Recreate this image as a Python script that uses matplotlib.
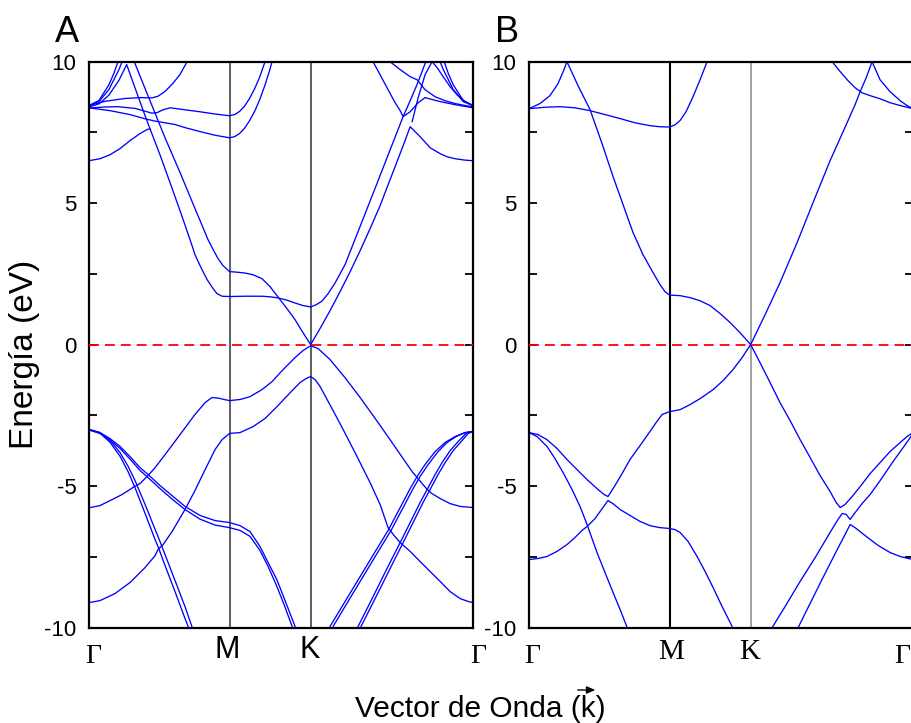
import matplotlib
matplotlib.use("Agg")
import matplotlib.pyplot as plt
from matplotlib.patches import FancyArrowPatch

plt.rcParams['font.family'] = ['Liberation Sans', 'DejaVu Sans']
plt.rcParams['axes.unicode_minus'] = False

# ---------------- high-symmetry path (units: |Gamma-M| = 1) ----------------
kpath_pos = [0.0, 1.0, 1.5774, 2.7321]
kpath_lab_A = ['Γ', 'M', 'K', 'Γ']
kpath_lab_B = ['Γ', 'M', 'K', 'Γ']
yticks_major = [-10, -5, 0, 5, 10]
yticks_minor = [-7.5, -2.5, 2.5, 7.5]

# ---------------- Panel A : bands (k, E in eV) ----------------
a_c01_k = [0, 0.078, 0.149, 0.221, 0.292, 0.363, 0.413, 0.434]
a_c01_e = [6.50, 6.57, 6.71, 6.93, 7.21, 7.46, 7.60, 7.63]

a_c02_k = [0, 0.071, 0.142, 0.214, 0.268, 0.327, 0.399, 0.434, 0.505, 0.577, 0.648, 0.719, 0.754,
           0.797, 0.840, 0.883, 0.911, 0.947, 1.000, 1.110, 1.231, 1.288, 1.345, 1.409, 1.466, 1.523, 1.577,
           1.616, 1.656, 1.701, 1.751, 1.822, 1.929, 2.036, 2.142, 2.235, 2.285, 2.342, 2.391, 2.406]
a_c02_e = [8.40, 8.51, 8.82, 9.35, 9.90, 9.08, 8.09, 7.63, 6.71, 5.72, 4.73, 3.71, 3.18,
           2.72, 2.30, 1.98, 1.80, 1.71, 1.70, 1.71, 1.71, 1.69, 1.65, 1.57, 1.47, 1.38, 1.33,
           1.41, 1.53, 1.80, 2.18, 2.83, 4.18, 5.53, 6.88, 8.06, 8.62, 9.29, 9.93, 10.07]

a_c03_k = [0, 0.071, 0.142, 0.178, 0.206]
a_c03_e = [8.45, 8.63, 9.19, 9.60, 10.0]

a_c04_k = [0, 0.071, 0.142, 0.214, 0.235]
a_c04_e = [8.45, 8.59, 9.02, 9.73, 10.0]

a_c05_k = [0, 0.114, 0.256, 0.363, 0.448, 0.491, 0.541, 0.591, 0.648, 0.698]
a_c05_e = [8.45, 8.60, 8.70, 8.73, 8.72, 8.78, 8.95, 9.20, 9.55, 10.0]

a_c06_k = [0, 0.114, 0.206, 0.327, 0.413, 0.448, 0.484, 0.527, 0.577, 0.683, 0.790, 0.897, 1.000,
           1.036, 1.071, 1.107, 1.142, 1.178, 1.214, 1.249, 1.267]
a_c06_e = [8.36, 8.40, 8.41, 8.35, 8.23, 8.18, 8.20, 8.30, 8.37, 8.30, 8.23, 8.15, 8.09,
           8.13, 8.24, 8.43, 8.70, 9.04, 9.45, 9.95, 10.2]

a_c07_k = [0, 0.149, 0.292, 0.399, 0.470, 0.541, 0.612, 0.683, 0.790, 0.897, 1.000,
           1.036, 1.071, 1.107, 1.142, 1.178, 1.214, 1.249, 1.285, 1.306]
a_c07_e = [8.37, 8.27, 8.13, 7.98, 7.90, 7.84, 7.78, 7.67, 7.53, 7.40, 7.31,
           7.35, 7.46, 7.65, 7.91, 8.24, 8.65, 9.13, 9.69, 10.07]

a_c08_k = [0.322, 0.434, 0.541, 0.648, 0.754, 0.847, 0.883, 0.918, 0.954, 1.000,
           1.053, 1.110, 1.167, 1.231, 1.288, 1.345, 1.409, 1.466, 1.523, 1.577,
           1.644, 1.715, 1.786, 1.858, 1.929, 2.000, 2.071, 2.128, 2.178, 2.235, 2.285,
           2.356, 2.427, 2.498, 2.548, 2.605, 2.676, 2.732]
a_c08_e = [10.0, 8.62, 7.31, 6.08, 4.81, 3.71, 3.36, 3.04, 2.79, 2.58,
           2.56, 2.53, 2.47, 2.33, 2.05, 1.68, 1.27, 0.88, 0.42, 0.0,
           0.57, 1.20, 1.87, 2.58, 3.32, 4.10, 4.91, 5.65, 6.29, 7.03, 7.70,
           7.35, 6.96, 6.75, 6.64, 6.57, 6.52, 6.50]

a_c09_k = [2.299, 2.342, 2.391, 2.441, 2.477, 2.520, 2.569, 2.619, 2.676, 2.732]
a_c09_e = [7.88, 8.73, 9.54, 10.0, 9.79, 9.47, 9.12, 8.83, 8.59, 8.45]

a_c10_k = [2.732, 2.662, 2.591, 2.555, 2.527]
a_c10_e = [8.45, 8.63, 9.19, 9.60, 10.0]

a_c11_k = [2.732, 2.662, 2.591, 2.520, 2.498]
a_c11_e = [8.45, 8.59, 9.02, 9.73, 10.0]

a_c12_k = [2.021, 2.071, 2.128, 2.178, 2.214, 2.235, 2.285, 2.342, 2.391, 2.498, 2.605, 2.732]
a_c12_e = [10.0, 9.54, 9.01, 8.55, 8.27, 8.06, 8.23, 8.55, 8.73, 8.59, 8.48, 8.37]

a_c13_k = [2.142, 2.214, 2.285, 2.335, 2.391, 2.463, 2.534, 2.605, 2.676, 2.732]
a_c13_e = [10.0, 9.72, 9.47, 9.36, 9.01, 8.76, 8.62, 8.52, 8.45, 8.41]

a_v01_k = [0, 0.078, 0.149, 0.221, 0.292, 0.363, 0.420, 0.505, 0.591, 0.683, 0.790, 0.897, 1.000,
           1.075, 1.146, 1.217, 1.274, 1.336, 1.395, 1.466]
a_v01_e = [-3.00, -3.11, -3.32, -3.60, -3.96, -4.35, -4.59, -4.98, -5.34, -5.72, -6.04, -6.22, -6.29,
           -6.40, -6.61, -7.14, -7.70, -8.30, -9.05, -9.96]

a_v02_k = [0, 0.078, 0.149, 0.221, 0.292, 0.363, 0.420, 0.505, 0.591, 0.683, 0.790, 0.897, 1.000,
           1.075, 1.146, 1.217, 1.274, 1.331, 1.388, 1.445]
a_v02_e = [-3.02, -3.14, -3.37, -3.67, -4.05, -4.45, -4.70, -5.09, -5.46, -5.83, -6.17, -6.38, -6.47,
           -6.57, -6.78, -7.28, -7.84, -8.48, -9.19, -9.96]

a_v03_k = [0, 0.078, 0.149, 0.221, 0.278, 0.327, 0.399, 0.470, 0.491, 0.541, 0.612, 0.683, 0.705]
a_v03_e = [-3.00, -3.13, -3.45, -3.95, -4.49, -5.05, -5.97, -6.89, -7.14, -7.81, -8.73, -9.68, -9.96]

a_v04_k = [0, 0.078, 0.149, 0.221, 0.278, 0.327, 0.399, 0.470, 0.491, 0.541, 0.612, 0.683, 0.733]
a_v04_e = [-3.00, -3.11, -3.38, -3.82, -4.30, -4.80, -5.65, -6.53, -6.78, -7.42, -8.34, -9.26, -9.98]

a_v05_k = [0, 0.078, 0.164, 0.235, 0.292, 0.313, 0.363, 0.420, 0.470, 0.541, 0.648, 0.754, 0.826,
           0.875, 0.918, 0.961, 1.000,
           1.075, 1.146, 1.231, 1.302, 1.374, 1.466, 1.523, 1.577,
           1.630, 1.715, 1.822, 1.929, 2.036, 2.142, 2.235, 2.299, 2.335, 2.370, 2.406, 2.441,
           2.498, 2.569, 2.641, 2.732]
a_v05_e = [-5.77, -5.69, -5.48, -5.30, -5.12, -5.05, -4.91, -4.63, -4.35, -3.89, -3.18, -2.47, -2.05,
           -1.87, -1.89, -1.94, -1.98,
           -1.94, -1.84, -1.59, -1.31, -0.92, -0.46, -0.21, -0.04,
           -0.14, -0.53, -1.17, -1.87, -2.61, -3.36, -4.03, -4.49, -4.70, -4.91, -5.12, -5.27,
           -5.44, -5.62, -5.72, -5.76]

a_v06_k = [0, 0.078, 0.185, 0.292, 0.399, 0.470, 0.491, 0.527, 0.591, 0.683, 0.754, 0.826, 0.897,
           0.947, 1.000,
           1.075, 1.167, 1.253, 1.338, 1.431, 1.502, 1.544, 1.577,
           1.609, 1.644, 1.694, 1.786, 1.893, 2.000, 2.071, 2.128, 2.171, 2.214, 2.285, 2.356,
           2.427, 2.498, 2.569, 2.641, 2.698, 2.732]
a_v06_e = [-9.12, -9.05, -8.80, -8.41, -7.88, -7.46, -7.24, -7.07, -6.61, -5.83, -5.16, -4.42, -3.71,
           -3.36, -3.14,
           -3.11, -2.90, -2.61, -2.19, -1.70, -1.34, -1.20, -1.13,
           -1.24, -1.48, -1.94, -2.79, -3.82, -4.88, -5.65, -6.47, -6.75, -7.00, -7.31, -7.67,
           -8.02, -8.37, -8.73, -8.98, -9.08, -9.12]

a_v07_k = [2.732, 2.676, 2.605, 2.534, 2.463, 2.391, 2.335, 2.285, 2.214, 2.128, 2.036, 1.929, 1.822, 1.715]
a_v07_e = [-3.07, -3.11, -3.25, -3.46, -3.78, -4.24, -4.66, -5.09, -5.76, -6.57, -7.32, -8.20, -9.08, -9.96]

a_v08_k = [2.732, 2.676, 2.612, 2.548, 2.484, 2.413, 2.356, 2.306, 2.235, 2.149, 2.057, 1.950, 1.843, 1.737]
a_v08_e = [-3.07, -3.11, -3.25, -3.46, -3.78, -4.24, -4.66, -5.09, -5.76, -6.57, -7.32, -8.20, -9.08, -9.96]

a_v09_k = [2.732, 2.683, 2.626, 2.569, 2.512, 2.463, 2.406, 2.356, 2.285, 2.214, 2.142, 2.071, 2.000, 1.929, 1.911]
a_v09_e = [-3.07, -3.14, -3.43, -3.75, -4.17, -4.59, -5.12, -5.58, -6.29, -7.00, -7.70, -8.41, -9.12, -9.82, -10.0]

a_v10_k = [2.732, 2.698, 2.648, 2.591, 2.534, 2.484, 2.427, 2.377, 2.306, 2.235, 2.164, 2.093, 2.021, 1.950, 1.932]
a_v10_e = [-3.07, -3.14, -3.43, -3.75, -4.17, -4.59, -5.12, -5.58, -6.29, -7.00, -7.70, -8.41, -9.12, -9.82, -10.0]

# ---------------- Panel B : bands ----------------
b_c01_k = [0, 0.114, 0.221, 0.327, 0.434, 0.541, 0.648, 0.754, 0.861, 0.932, 1.000,
           1.039, 1.075, 1.117, 1.167, 1.217, 1.267]
b_c01_e = [8.34, 8.39, 8.41, 8.37, 8.27, 8.13, 7.99, 7.84, 7.74, 7.70, 7.69,
           7.77, 7.92, 8.23, 8.76, 9.36, 10.0]

b_c02_k = [0, 0.078, 0.149, 0.206, 0.249, 0.270, 0.349, 0.434, 0.520, 0.598, 0.669, 0.740, 0.811,
           0.883, 0.932, 0.968, 1.000, 1.075, 1.146, 1.217, 1.288, 1.359, 1.431, 1.502, 1.577]
b_c02_e = [8.34, 8.52, 8.80, 9.22, 9.72, 10.0, 9.15, 8.31, 7.10, 5.94, 4.95, 3.96, 3.18,
           2.54, 2.12, 1.87, 1.75, 1.73, 1.66, 1.55, 1.38, 1.10, 0.78, 0.42, 0.0]

b_c03_k = [1.577, 1.680, 1.786, 1.907, 2.021, 2.142, 2.263, 2.320, 2.356, 2.399, 2.441, 2.498,
           2.569, 2.641, 2.690, 2.732]
b_c03_e = [0.0, 1.06, 2.19, 3.60, 5.02, 6.50, 7.84, 8.48, 8.94, 9.43, 10.0, 9.36,
           8.94, 8.62, 8.45, 8.34]

b_c04_k = [2.157, 2.214, 2.270, 2.320, 2.342, 2.370, 2.427, 2.498, 2.569, 2.641, 2.732]
b_c04_e = [10.0, 9.65, 9.33, 9.08, 9.00, 8.90, 8.80, 8.69, 8.55, 8.45, 8.34]

b_v01_k = [0, 0.064, 0.128, 0.199, 0.270, 0.342, 0.413, 0.484, 0.534, 0.562, 0.612, 0.662, 0.719,
           0.790, 0.861, 0.904, 0.947, 1.000,
           1.075, 1.146, 1.217, 1.310, 1.381, 1.452, 1.516, 1.577,
           1.644, 1.715, 1.786, 1.858, 1.929, 2.000, 2.071, 2.142, 2.185, 2.214, 2.249, 2.299,
           2.356, 2.427, 2.498, 2.569, 2.641, 2.690, 2.732]
b_v01_e = [-3.11, -3.18, -3.36, -3.67, -4.06, -4.42, -4.77, -5.09, -5.30, -5.37, -4.98, -4.56, -4.06,
           -3.57, -3.07, -2.76, -2.47, -2.37,
           -2.30, -2.12, -1.91, -1.59, -1.27, -0.88, -0.46, 0.0,
           -0.64, -1.34, -2.05, -2.69, -3.36, -3.99, -4.63, -5.19, -5.58, -5.76, -5.65, -5.37,
           -5.02, -4.56, -4.17, -3.78, -3.46, -3.25, -3.11]

b_v02_k = [0, 0.057, 0.128, 0.185, 0.242, 0.306, 0.363, 0.413, 0.484, 0.541, 0.598, 0.648, 0.698]
b_v02_e = [-3.11, -3.25, -3.60, -4.03, -4.52, -5.12, -5.72, -6.36, -7.35, -8.06, -8.76, -9.36, -10.0]

b_v03_k = [0, 0.064, 0.128, 0.199, 0.270, 0.327, 0.377, 0.413, 0.470, 0.520, 0.562, 0.605, 0.648,
           0.719, 0.790, 0.861, 0.932, 1.000, 1.039, 1.075, 1.132, 1.196, 1.253, 1.310, 1.374, 1.445]
b_v03_e = [-7.60, -7.56, -7.49, -7.31, -7.07, -6.82, -6.57, -6.43, -6.15, -5.80, -5.51, -5.65, -5.83,
           -6.04, -6.25, -6.40, -6.47, -6.50, -6.54, -6.64, -6.96, -7.49, -8.02, -8.59, -9.26, -9.96]

b_v04_k = [1.730, 1.822, 1.929, 2.036, 2.142, 2.199, 2.228, 2.256, 2.285, 2.320, 2.370, 2.427,
           2.498, 2.591, 2.662, 2.712, 2.732]
b_v04_e = [-10.0, -9.26, -8.37, -7.53, -6.64, -6.18, -5.97, -6.00, -6.18, -5.94, -5.62, -5.30,
           -4.81, -4.13, -3.64, -3.29, -3.14]

b_v05_k = [1.915, 2.000, 2.085, 2.178, 2.249, 2.285, 2.320, 2.399, 2.484, 2.569, 2.641, 2.732]
b_v05_e = [-10.0, -9.15, -8.30, -7.39, -6.71, -6.36, -6.47, -6.78, -7.10, -7.35, -7.49, -7.60]

bands_A = [(a_c01_k, a_c01_e), (a_c02_k, a_c02_e), (a_c03_k, a_c03_e), (a_c04_k, a_c04_e),
           (a_c05_k, a_c05_e), (a_c06_k, a_c06_e), (a_c07_k, a_c07_e), (a_c08_k, a_c08_e),
           (a_c09_k, a_c09_e), (a_c10_k, a_c10_e), (a_c11_k, a_c11_e), (a_c12_k, a_c12_e),
           (a_c13_k, a_c13_e),
           (a_v01_k, a_v01_e), (a_v02_k, a_v02_e), (a_v03_k, a_v03_e), (a_v04_k, a_v04_e),
           (a_v05_k, a_v05_e), (a_v06_k, a_v06_e), (a_v07_k, a_v07_e), (a_v08_k, a_v08_e),
           (a_v09_k, a_v09_e), (a_v10_k, a_v10_e)]
bands_B = [(b_c01_k, b_c01_e), (b_c02_k, b_c02_e), (b_c03_k, b_c03_e), (b_c04_k, b_c04_e),
           (b_v01_k, b_v01_e), (b_v02_k, b_v02_e), (b_v03_k, b_v03_e), (b_v04_k, b_v04_e),
           (b_v05_k, b_v05_e)]

# ---------------- figure ----------------
W, H = 911, 723
fig = plt.figure(figsize=(W / 100, H / 100), dpi=100)
ax_bottom = (H - 627.5) / H
ax_height = 565.8 / H
axA = fig.add_axes([89 / W, ax_bottom, 384 / W, ax_height])
axB = fig.add_axes([529 / W, ax_bottom, 384 / W, ax_height])

BLUE = '#0000ff'


def style_axis(ax, bands, vline_colors, vline_widths):
    ax.set_xlim(kpath_pos[0], kpath_pos[-1])
    ax.set_ylim(-10, 10)
    for kx, c, w in zip(kpath_pos[1:3], vline_colors, vline_widths):
        ax.axvline(kx, color=c, lw=w, zorder=1)
    for kk, ee in bands:
        ax.plot(kk, ee, color=BLUE, lw=0.95, solid_joinstyle='round', zorder=2)
    ax.axhline(0, color='#ff0000', lw=1.3, dashes=(5.5, 3.3), zorder=3)
    ax.set_yticks(yticks_major)
    ax.set_yticks(yticks_minor, minor=True)
    ax.set_yticklabels([str(v) for v in yticks_major])
    ax.tick_params(axis='y', which='both', direction='in', length=6, width=1.3,
                   left=True, right=True, labelsize=16, pad=9)
    ax.set_xticks([])
    for sp in ax.spines.values():
        sp.set_linewidth(1.6)
        sp.set_color('black')


style_axis(axA, bands_A, ['#333333', '#333333'], [1.1, 1.1])
style_axis(axB, bands_B, ['#000000', '#888888'], [1.5, 1.1])

# x labels of high-symmetry points
serif = ['Liberation Serif', 'DejaVu Serif']
sans = ['Liberation Sans', 'DejaVu Sans']
labA = [('Γ', serif, 20, 3.0, -25.5, 'center'), ('M', sans, 22, -1.5, -22.0, 'center'),
        ('K', sans, 22, -1.0, -22.0, 'center'), ('Γ', serif, 20, 3.5, -25.5, 'center')]
labB = [('Γ', serif, 20, 2.0, -25.5, 'center'), ('M', serif, 21, 0.8, -22.5, 'center'),
        ('K', serif, 21, -1.0, -22.5, 'center'), ('Γ', serif, 20, -2.0, -25.5, 'right')]
for ax, labs in ((axA, labA), (axB, labB)):
    for kx, (txt, fam, fs, dx, dy, ha) in zip(kpath_pos, labs):
        ax.annotate(txt, xy=(kx, 0), xycoords=('data', 'axes fraction'),
                    xytext=(dx, dy), textcoords='offset points',
                    ha=ha, va='baseline', fontsize=fs, family=fam,
                    annotation_clip=False)

# panel letters
fig.text(55 / W, 1 - 42 / H, 'A', fontsize=26, ha='left', va='baseline')
fig.text(495 / W, 1 - 42 / H, 'B', fontsize=26, ha='left', va='baseline')

# axis titles
fig.text(25 / W, 1 - 354 / H, 'Energía (eV)', rotation=90, fontsize=24,
         ha='center', va='center')
fig.text(480.5 / W, 1 - 717 / H, 'Vector de Onda (k)', fontsize=21.5,
         ha='center', va='baseline')
arrow = FancyArrowPatch((575 / W, 1 - 690 / H), (598 / W, 1 - 690 / H),
                        transform=fig.transFigure, arrowstyle='-|>,head_length=5,head_width=2.2',
                        lw=1.0, color='black', mutation_scale=1)
fig.patches.append(arrow)

fig.savefig('out.png', dpi=100)
